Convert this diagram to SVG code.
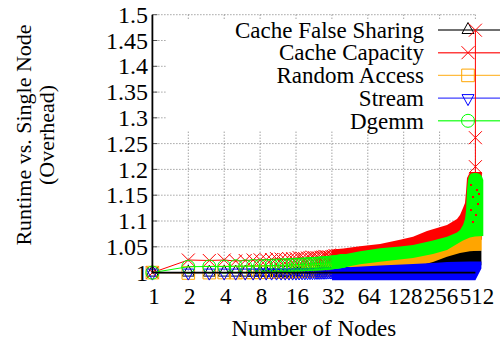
<svg xmlns="http://www.w3.org/2000/svg" width="500" height="344" viewBox="0 0 500 344">
<style>
.t{font-family:"Liberation Serif","Times New Roman",serif;font-size:23px;fill:#000}
.yt{font-size:24px}
.grid{stroke:#555;stroke-width:0.8;stroke-dasharray:1 2;fill:none}
.tick{stroke:#555;stroke-width:1;fill:none}
.key{stroke-width:1.4;stroke-opacity:0.75}
</style>
<defs>
<g id="g-tu"><path d="M0,-7.5L6,3.5L-6,3.5Z" fill="none" stroke="#000" stroke-width="1"/></g>
<g id="g-x"><path d="M-6.5,-6.5L6.5,6.5M-6.5,6.5L6.5,-6.5" fill="none" stroke="#f00" stroke-width="1"/></g>
<g id="g-sq"><path d="M-6.3,-6.3h12.6v12.6h-12.6Z" fill="none" stroke="#ffa500" stroke-width="1"/></g>
<g id="g-td"><path d="M-6,-3.5L6,-3.5L0,7.5Z" fill="none" stroke="#00f" stroke-width="1"/></g>
<g id="g-c"><circle r="6.5" fill="none" stroke="#0f0" stroke-width="1"/></g>
<marker id="m-tu" markerUnits="userSpaceOnUse" markerWidth="20" markerHeight="20" viewBox="-10 -10 20 20" refX="0" refY="0"><use href="#g-tu"/></marker>
<marker id="m-x" markerUnits="userSpaceOnUse" markerWidth="20" markerHeight="20" viewBox="-10 -10 20 20" refX="0" refY="0"><use href="#g-x"/></marker>
<marker id="m-sq" markerUnits="userSpaceOnUse" markerWidth="20" markerHeight="20" viewBox="-10 -10 20 20" refX="0" refY="0"><use href="#g-sq"/></marker>
<marker id="m-td" markerUnits="userSpaceOnUse" markerWidth="20" markerHeight="20" viewBox="-10 -10 20 20" refX="0" refY="0"><use href="#g-td"/></marker>
<marker id="m-c" markerUnits="userSpaceOnUse" markerWidth="20" markerHeight="20" viewBox="-10 -10 20 20" refX="0" refY="0"><use href="#g-c"/></marker>
</defs>
<rect width="500" height="344" fill="#fff"/>

<g id="grid">
<path class="grid" d="M152.4,14.7H475.4M152.4,40.5H475.4M152.4,66.3H475.4M152.4,92.1H475.4M152.4,117.8H475.4M152.4,143.6H475.4M152.4,169.4H475.4M152.4,195.2H475.4M152.4,221H475.4M152.4,246.8H475.4"/>
<path class="grid" d="M188.3,14.7V272.6M224.2,14.7V272.6M260.1,14.7V272.6M296,14.7V272.6M331.9,14.7V272.6M367.8,14.7V272.6M403.7,14.7V272.6M439.6,14.7V272.6M475.4,14.7V272.6"/>
<path class="tick" d="M152.4,14.7h5M152.4,40.5h5M152.4,66.3h5M152.4,92.1h5M152.4,117.8h5M152.4,143.6h5M152.4,169.4h5M152.4,195.2h5M152.4,221h5M152.4,246.8h5"/>
</g>

<g id="y-tick-labels" class="t yt" text-anchor="end">
<text x="148" y="22.8">1.5</text>
<text x="148" y="48.6">1.45</text>
<text x="148" y="74.4">1.4</text>
<text x="148" y="100.2">1.35</text>
<text x="148" y="125.9">1.3</text>
<text x="148" y="151.7">1.25</text>
<text x="148" y="177.5">1.2</text>
<text x="148" y="203.3">1.15</text>
<text x="148" y="229.1">1.1</text>
<text x="148" y="254.9">1.05</text>
<text x="148" y="280.7">1</text>
</g>
<g id="x-tick-labels" class="t" text-anchor="middle">
<text x="153.9" y="303.5">1</text>
<text x="189.8" y="303.5">2</text>
<text x="225.7" y="303.5">4</text>
<text x="261.6" y="303.5">8</text>
<text x="297.5" y="303.5">16</text>
<text x="333.4" y="303.5">32</text>
<text x="369.3" y="303.5">64</text>
<text x="405.2" y="303.5">128</text>
<text x="441.1" y="303.5">256</text>
<text x="476.9" y="303.5">512</text>
</g>
<g id="axis-titles" class="t" text-anchor="middle">
<text x="313.8" y="336">Number of Nodes</text>
<text transform="translate(31,135) rotate(-90)" style="font-size:22px">Runtime vs. Single Node</text>
<text transform="translate(53.5,135) rotate(-90)" style="font-size:22px">(Overhead)</text>
</g>

<g id="legend">
<rect x="166" y="20" width="312" height="111" fill="#fff"/>
<g class="t" text-anchor="end">
<text x="424" y="37.7">Cache False Sharing</text>
<text x="424" y="60.4">Cache Capacity</text>
<text x="424" y="83.1">Random Access</text>
<text x="424" y="105.8">Stream</text>
<text x="424" y="128.5">Dgemm</text>
</g>
<path class="key" d="M438,30H500" stroke="#000"/>
<path class="key" d="M438,52.7H500" stroke="#f00"/>
<path class="key" d="M438,75.4H500" stroke="#ffa500"/>
<path class="key" d="M438,98.1H500" stroke="#00f"/>
<path class="key" d="M438,120.8H500" stroke="#0f0"/>
<use href="#g-tu" x="468" y="30"/>
<use href="#g-x" x="468" y="52.7"/>
<use href="#g-sq" x="468" y="75.4"/>
<use href="#g-td" x="468" y="98.1"/>
<use href="#g-c" x="468" y="120.8"/>
</g>

<g id="series-false-sharing">
<polygon fill="#000" points="331.9,264.6 420,264.5 433,261 447,255 460,251.5 470,250.5 481.4,250.5 481.4,265 475.4,276 331.9,276.5"/>
<polyline fill="none" stroke="#000" stroke-width="1" marker-start="url(#m-tu)" marker-mid="url(#m-tu)" marker-end="url(#m-tu)" points="152.4,272.6 188.3,272.6 209.3,272.6 224.2,272.6 235.7,272.6 245.2,272.6 253.1,272.6 260.1,272.6 266.2,272.6 271.6,272.6 276.5,272.6 281.1,272.6 285.2,272.6 289,272.6 292.6,272.6 296,272.6 299.1,272.5 302.1,272.4 304.9,272.4 307.5,272.3 310,272.2 312.4,272.2 314.8,272.1 317,272 319.1,272 321.1,271.9 323.1,271.8 324.9,271.8 326.8,271.7 328.5,271.6 330.2,271.6 331.9,271.5 333.4,271.4 335,271.4 336.5,271.3 337.9,271.3 339.4,271.2 340.7,271.1 342.1,271.1 343.4,271"/>
</g>

<g id="series-cache-capacity">
<polygon fill="#f00" points="331.9,249.5 343.4,248.5 360,246.3 380,244 400,239.8 413,236.7 427,231 447,225 457,219 460,215 463,208 465,203 466,192 467,178 470,172 481.9,172 481.9,240 467,232 460,236 447,243 433,248 413,252 380,255 343.4,261 331.9,262.5"/>
<polyline fill="none" stroke="#f00" stroke-width="1" marker-start="url(#m-x)" marker-mid="url(#m-x)" marker-end="url(#m-x)" points="152.4,272.6 188.3,260 209.3,260.5 224.2,260 235.7,261 245.2,260.5 253.1,260 260.1,259.8 266.2,259.6 271.6,259.5 276.5,258.6 281.1,259.1 285.2,259.6 289,258.8 292.6,258.7 296,258.5 299.1,257.6 302.1,258.3 304.9,258.9 307.5,258 310,257.9 312.4,257.1 314.8,257.7 317,257.6 319.1,258.1 321.1,257.3 323.1,257.1 324.9,256.4 326.8,256.9 328.5,256.8 330.2,257.2 331.9,256.5 333.4,256.4 335,255.6 336.5,256.1 337.9,256 339.4,256.5 340.7,255.7 342.1,255 343.4,255.5"/>
<path d="M475.4,30.2V176" stroke="#f00" stroke-width="1"/>
<use href="#g-x" x="475.4" y="30.2"/>
<use href="#g-x" x="475.4" y="137.7"/>
<use href="#g-x" x="475.4" y="166.7"/>
</g>

<g id="series-random-access">
<polygon fill="#ffa500" points="331.9,263.2 343.4,262.4 360,261 380,258.5 413,255 433,251 447,246.5 460,241 466,237.5 470,235.5 481.7,235 481.7,250.5 470,251.2 460,253 447,256.7 433,262 420,265.5 400,268 343.4,275 331.9,275.8"/>
<polyline fill="none" stroke="#ffa500" stroke-width="1" marker-start="url(#m-sq)" marker-mid="url(#m-sq)" marker-end="url(#m-sq)" points="152.4,272.6 188.3,273 209.3,272.6 224.2,272.5 235.7,272.6 245.2,272.4 253.1,272.4 260.1,272.3 266.2,272.2 271.6,272.1 276.5,272 281.1,271.9 285.2,271.8 289,271.7 292.6,271.6 296,271.5 299.1,271.4 302.1,271.3 304.9,271.2 307.5,271.1 310,271 312.4,270.9 314.8,270.8 317,270.7 319.1,270.5 321.1,270.4 323.1,270.2 324.9,270.1 326.8,269.9 328.5,269.8 330.2,269.6 331.9,269.5 333.4,269.4 335,269.3 336.5,269.2 337.9,269.1 339.4,269 340.7,268.9 342.1,268.8 343.4,268.7"/>
</g>

<g id="series-stream">
<polygon fill="#00f" points="331.9,268 343.4,267.4 380,265.5 413,264 433,263 447,262 470,261.5 481.4,261.5 481.4,268.6 475.4,280.2 331.9,280.2"/>
<polyline fill="none" stroke="#00f" stroke-width="1" marker-start="url(#m-td)" marker-mid="url(#m-td)" marker-end="url(#m-td)" points="152.4,272.6 188.3,272.6 209.3,272.6 224.2,272.6 235.7,272.6 245.2,272.6 253.1,272.6 260.1,272.6 266.2,272.6 271.6,272.6 276.5,272.6 281.1,272.6 285.2,272.6 289,272.6 292.6,272.6 296,272.6 299.1,272.5 302.1,272.4 304.9,272.4 307.5,272.3 310,272.2 312.4,272.2 314.8,272.1 317,272 319.1,272 321.1,271.9 323.1,271.8 324.9,271.8 326.8,271.7 328.5,271.6 330.2,271.6 331.9,271.5 333.4,271.4 335,271.4 336.5,271.3 337.9,271.3 339.4,271.2 340.7,271.1 342.1,271.1 343.4,271"/>
</g>

<g id="series-dgemm">
<polygon fill="#0f0" points="331.9,256 343.4,254.4 360,251.2 380,248.3 400,246.5 413,245 433,240.5 447,236.7 457,232.5 460,230 463,225 465,219 466,211 467,190 468,180 469,176 471,173.5 474,173 477,173 480,174 482,176.5 483.3,180 483.3,236 475,236.5 470,237.5 463,240.5 457,244 447,250 433,254 413,258 380,261.7 360,264.2 343.4,267.4 331.9,269"/>
<polyline fill="none" stroke="#0f0" stroke-width="1" marker-start="url(#m-c)" marker-mid="url(#m-c)" marker-end="url(#m-c)" points="152.4,272.6 188.3,266.7 209.3,266.5 224.2,266.6 235.7,266.2 245.2,266.3 253.1,266 260.1,266 266.2,265.8 271.6,265.6 276.5,265.5 281.1,265.3 285.2,265.2 289,265 292.6,264.9 296,264.7 299.1,264.6 302.1,264.5 304.9,264.3 307.5,264.2 310,264.1 312.4,263.9 314.8,263.8 317,263.7 319.1,263.5 321.1,263.4 323.1,263.3 324.9,263.1 326.8,263 328.5,262.8 330.2,262.7 331.9,262.5 333.4,262.3 335,262.1 336.5,261.9 337.9,261.7 339.4,261.5 340.7,261.3 342.1,261.1 343.4,260.9"/>
<path d="M470,184l2,2M472,184l-2,2M476,189l2,2M478,189l-2,2M472,196l2,2M474,196l-2,2M477,203l2,2M479,203l-2,2M470,209l2,2M472,209l-2,2M475,214l2,2M477,214l-2,2M472,221l2,2M474,221l-2,2M478,193l2,2M480,193l-2,2" stroke="#f00" stroke-width="1" fill="none"/>
</g>

<g id="border">
<path d="M152.4,14.7V272.6H475.4" fill="none" stroke="#000" stroke-width="1.8"/>
</g>
</svg>
